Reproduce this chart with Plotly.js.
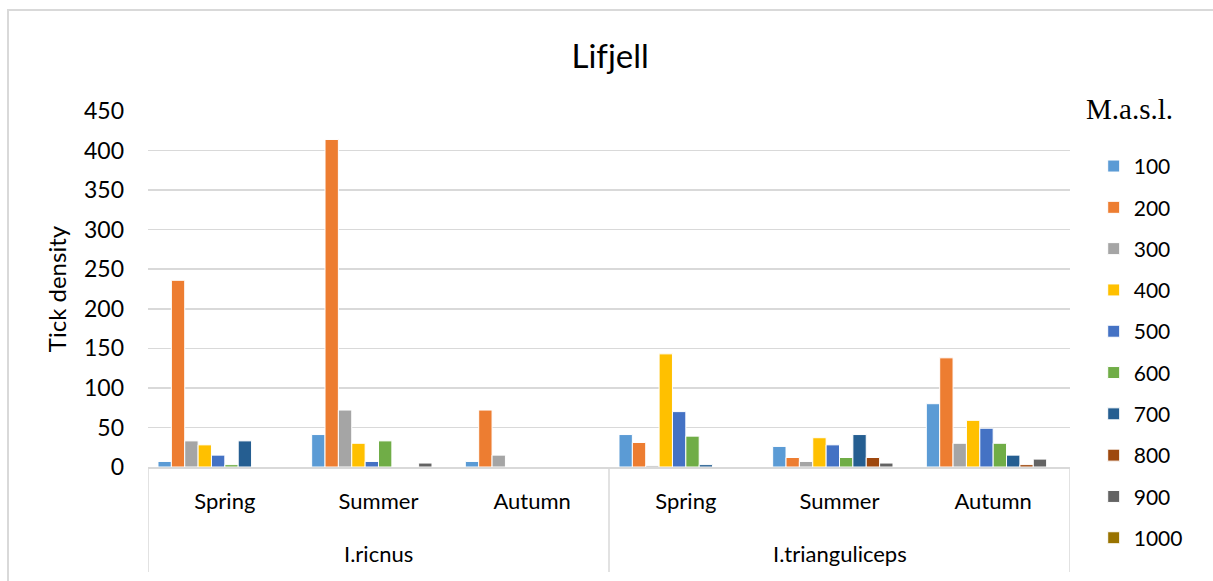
<!DOCTYPE html>
<html>
<head>
<meta charset="utf-8">
<script src="https://cdn.plot.ly/plotly-3.0.1.min.js"></script>
<style>
  html, body { margin: 0; padding: 0; background: #fff; }
  #wrap { position: relative; width: 1213px; height: 581px; overflow: hidden; }
  #chart { width: 1213px; height: 581px; }
  #chart text { font-variant-ligatures: none; font-feature-settings: "liga" 0, "clig" 0; }
  #frame { position: absolute; left: 7px; top: 9px; width: 1300px; height: 700px;
           border-left: 2px solid #D9D9D9; border-top: 2px solid #D9D9D9; pointer-events: none; }
</style>
</head>
<body>
<div id="wrap">
  <div id="chart"></div>
  <div id="frame"></div>
</div>
<script>
// Categories (two-level x axis)
const speciesNames = ["I.ricnus", "I.trianguliceps"];
const species = ["I.ricnus", "I.ricnus", "I.ricnus", "I.trianguliceps", "I.trianguliceps", "I.trianguliceps"];
const seasons = ["Spring", "Summer", "Autumn", "Spring", "Summer", "Autumn"];

// Altitude series (M.a.s.l.)
const altitudes = ["100", "200", "300", "400", "500", "600", "700", "800", "900", "1000"];
const v100  = [7, 41, 7, 41, 26, 80];
const v200  = [236, 414, 72, 31, 12, 138];
const v300  = [33, 72, 15, 2, 7, 30];
const v400  = [28, 30, 0, 143, 37, 59];
const v500  = [15, 7, 0, 70, 28, 49];
const v600  = [3, 33, 0, 39, 12, 30];
const v700  = [33, 0, 0, 3, 41, 15];
const v800  = [0, 0, 0, 0, 12, 3];
const v900  = [0, 5, 0, 0, 5, 10];
const v1000 = [0, 0, 0, 0, 0, 0];

const seriesValues = [v100, v200, v300, v400, v500, v600, v700, v800, v900, v1000];
const colors = ["#5B9BD5", "#ED7D31", "#A5A5A5", "#FFC000", "#4472C4",
                "#70AD47", "#255E91", "#9E480E", "#636363", "#997300"];

const FONT = "Lato, 'Open Sans', sans-serif";
const SERIF = "'Liberation Serif', 'Times New Roman', serif";
const AXIS_GREY = "#D9D9D9";

// unique category keys built from the two label levels
const xKeys = species.map((s, i) => s + " | " + seasons[i]);

const traces = altitudes.map((name, i) => ({
  type: "bar",
  name: name,
  legendgroup: "g" + i,
  x: xKeys,
  y: seriesValues[i],
  marker: { color: colors[i], line: { color: "#FFFFFF", width: 1 } },
  hoverinfo: "x+y+name"
}));

// group (species) labels and dividers, positioned in category coordinates
const nPerGroup = seasons.length / speciesNames.length;
const annotations = speciesNames.map((sp, g) => ({
  text: sp,
  xref: "x", yref: "paper",
  x: g * nPerGroup + (nPerGroup - 1) / 2,
  y: -0.242, yanchor: "middle", xanchor: "center",
  showarrow: false,
  font: { family: FONT, size: 22, color: "#000000" }
}));
annotations.push({
  text: "M.a.s.l.",
  xref: "paper", yref: "paper",
  x: 1.015, xanchor: "left",
  y: 1.0055, yanchor: "middle",
  showarrow: false,
  font: { family: SERIF, size: 29, color: "#000000" }
});

const shapes = [];
for (let g = 0; g <= speciesNames.length; g++) {
  shapes.push({
    type: "line", xref: "x", yref: "paper",
    x0: g * nPerGroup - 0.5, x1: g * nPerGroup - 0.5,
    y0: 0, y1: -0.295,
    line: { color: AXIS_GREY, width: 1.5 }
  });
}

const layout = {
  width: 1213,
  height: 581,
  paper_bgcolor: "#FFFFFF",
  plot_bgcolor: "#FFFFFF",
  margin: { l: 148, r: 143, t: 111, b: 114 },
  font: { family: FONT, size: 22, color: "#404040" },
  title: {
    text: "Lifjell",
    font: { family: FONT, size: 33, color: "#000000" },
    x: 0.503, xanchor: "center",
    y: 0.902, yanchor: "middle"
  },
  barmode: "group",
  bargap: 0.13,
  bargroupgap: 0,
  showlegend: true,
  legend: {
    x: 1.0257, xanchor: "left",
    y: 0.902, yanchor: "top",
    traceorder: "grouped",
    tracegroupgap: 11,
    itemwidth: 30,
    maxheight: 520,
    font: { family: FONT, size: 21, color: "#000000" },
    bgcolor: "rgba(0,0,0,0)"
  },
  annotations: annotations,
  shapes: shapes,
  xaxis: {
    type: "category",
    range: [-0.5, seasons.length - 0.5],
    tickvals: xKeys,
    ticktext: seasons,
    showline: true,
    linecolor: AXIS_GREY,
    linewidth: 1.5,
    showgrid: false,
    zeroline: false,
    ticks: "",
    ticklabelstandoff: 14,
    tickfont: { family: FONT, size: 22, color: "#000000" }
  },
  yaxis: {
    range: [0, 450],
    dtick: 50,
    tick0: 0,
    showgrid: true,
    gridcolor: AXIS_GREY,
    gridwidth: 1.5,
    zeroline: false,
    showline: false,
    ticks: "",
    ticklabelstandoff: 23,
    tickfont: { family: FONT, size: 23, color: "#000000" },
    title: { text: "Tick density", standoff: 10,
             font: { family: FONT, size: 24, color: "#000000" } }
  }
};

Plotly.newPlot("chart", traces, layout, { displayModeBar: false, staticPlot: true });
</script>
</body>
</html>
